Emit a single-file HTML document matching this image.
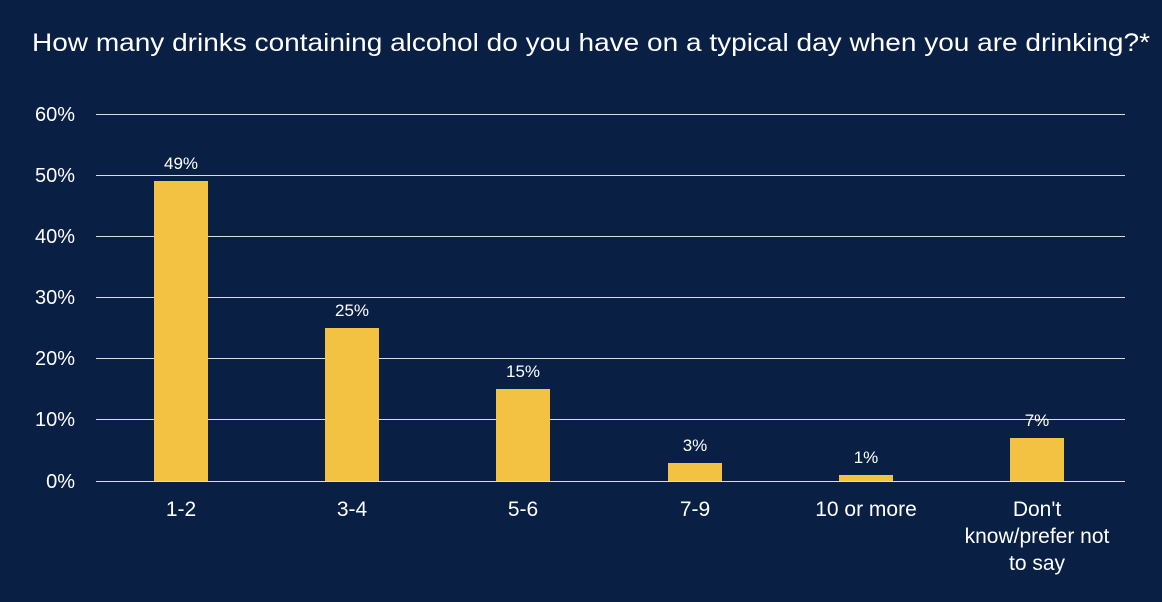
<!DOCTYPE html>
<html><head><style>html,body{margin:0;padding:0;background:#0a1f44;}svg{display:block;font-family:"Liberation Sans",sans-serif;}</style></head>
<body>
<svg width="1162" height="602" viewBox="0 0 1162 602">
<rect width="1162" height="602" fill="#0a1f44"/>
<text x="32" y="51" fill="#fff" font-size="25" textLength="1118" lengthAdjust="spacingAndGlyphs">How many drinks containing alcohol do you have on a typical day when you are drinking?*</text>
<g stroke="#d9dce3" stroke-width="1">
<line x1="96" x2="1125" y1="114.5" y2="114.5"/>
<line x1="96" x2="1125" y1="175.5" y2="175.5"/>
<line x1="96" x2="1125" y1="236.5" y2="236.5"/>
<line x1="96" x2="1125" y1="297.5" y2="297.5"/>
<line x1="96" x2="1125" y1="358.5" y2="358.5"/>
<line x1="96" x2="1125" y1="419.5" y2="419.5"/>
<line x1="96" x2="1125" y1="481.5" y2="481.5"/>
</g>
<g fill="#fff" font-size="20" text-anchor="end">
<text x="75" y="121">60%</text><text x="75" y="182">50%</text><text x="75" y="243">40%</text>
<text x="75" y="304">30%</text><text x="75" y="365">20%</text><text x="75" y="426">10%</text><text x="75" y="488">0%</text>
</g>
<g fill="#f4c242">
<rect x="154" y="181" width="54" height="300"/>
<rect x="325" y="328" width="54" height="153"/>
<rect x="496" y="389" width="54" height="92"/>
<rect x="668" y="463" width="54" height="18"/>
<rect x="839" y="475" width="54" height="6"/>
<rect x="1010" y="438" width="54" height="43"/>
</g>
<g fill="#fff" font-size="17" text-anchor="middle">
<text x="181" y="169">49%</text><text x="352" y="316">25%</text><text x="523" y="377">15%</text>
<text x="695" y="451">3%</text><text x="866" y="463">1%</text><text x="1037" y="426">7%</text>
</g>
<g fill="#fff" font-size="21" text-anchor="middle">
<text x="181" y="516">1-2</text><text x="352" y="516">3-4</text><text x="523" y="516">5-6</text>
<text x="695" y="516">7-9</text><text x="866" y="516">10 or more</text>
<text x="1037" y="516">Don't</text><text x="1037" y="543">know/prefer not</text><text x="1037" y="570">to say</text>
</g>
</svg>
</body></html>
